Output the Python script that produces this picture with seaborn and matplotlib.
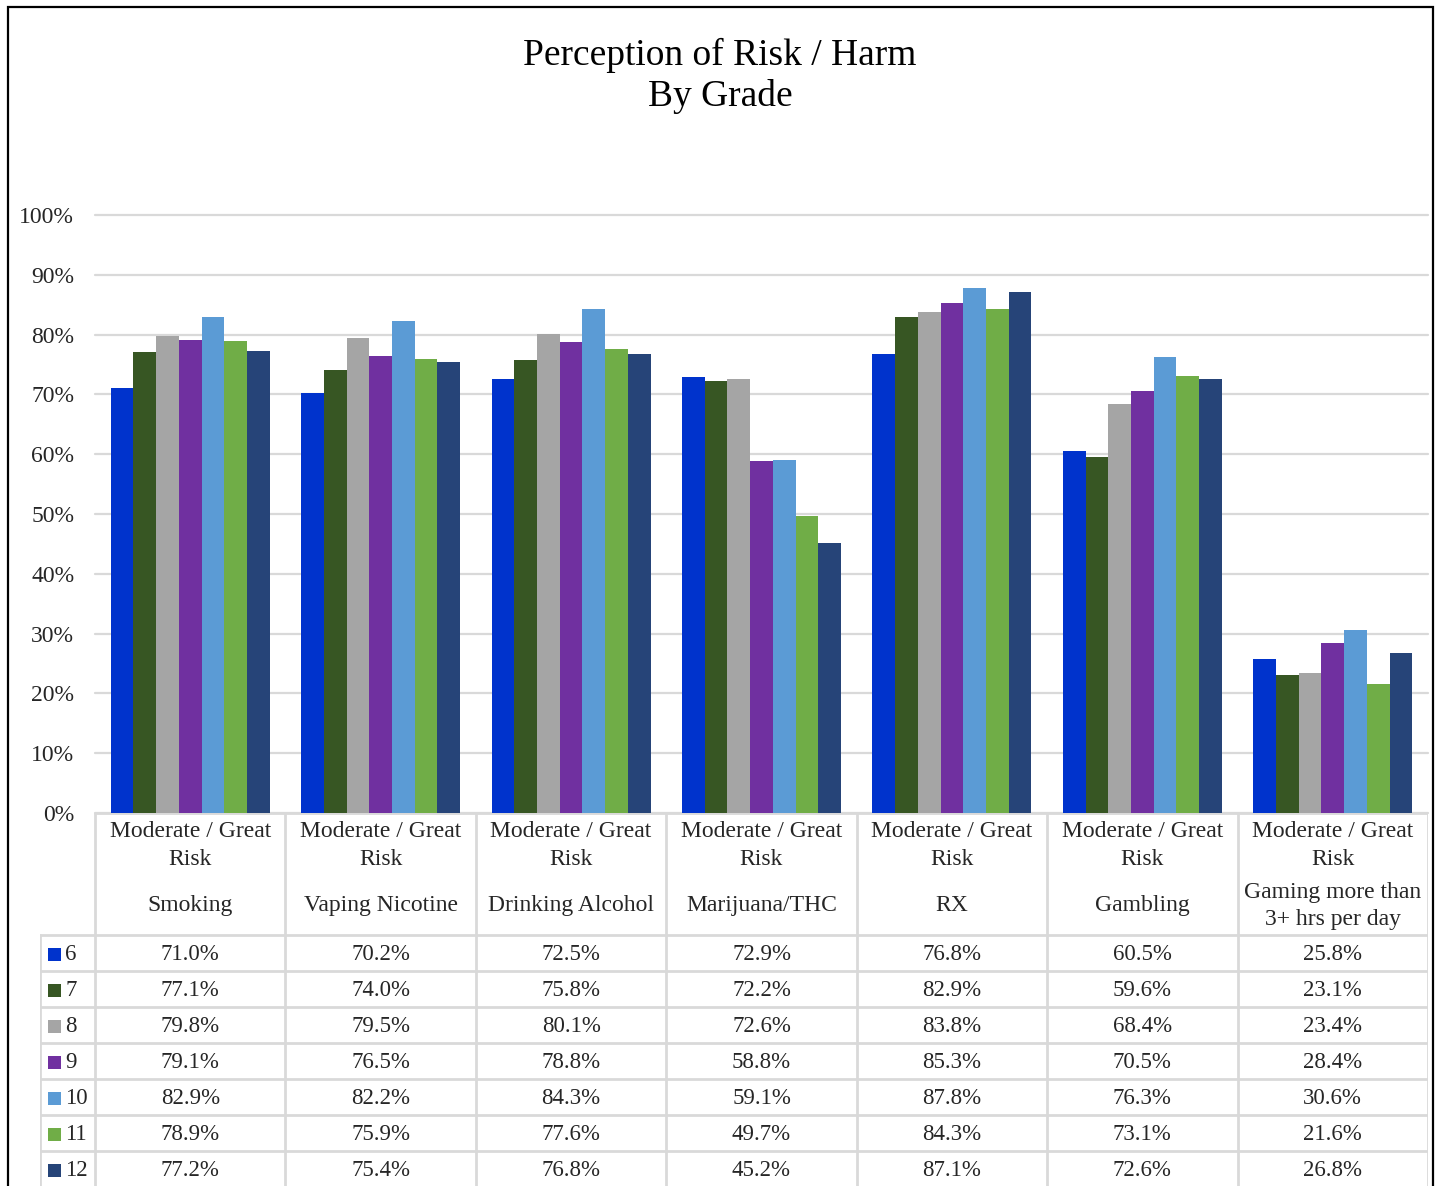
import pandas as pd
import numpy as np
import matplotlib.pyplot as plt
import seaborn as sns
from matplotlib.patches import Rectangle

# chart data
categories = ["Smoking", "Vaping Nicotine", "Drinking Alcohol", "Marijuana/THC",
              "RX", "Gambling", "Gaming more than\n3+ hrs per day"]
grades = ["6", "7", "8", "9", "10", "11", "12"]
g6 = [71.0, 70.2, 72.5, 72.9, 76.8, 60.5, 25.8]
g7 = [77.1, 74.0, 75.8, 72.2, 82.9, 59.6, 23.1]
g8 = [79.8, 79.5, 80.1, 72.6, 83.8, 68.4, 23.4]
g9 = [79.1, 76.5, 78.8, 58.8, 85.3, 70.5, 28.4]
g10 = [82.9, 82.2, 84.3, 59.1, 87.8, 76.3, 30.6]
g11 = [78.9, 75.9, 77.6, 49.7, 84.3, 73.1, 21.6]
g12 = [77.2, 75.4, 76.8, 45.2, 87.1, 72.6, 26.8]
series = [g6, g7, g8, g9, g10, g11, g12]
colors = ["#0033CC", "#375623", "#A5A5A5", "#7030A0", "#5B9BD5", "#70AD47", "#264478"]
y_ticks = [0, 10, 20, 30, 40, 50, 60, 70, 80, 90, 100]
header_top = "Moderate / Great\nRisk"

rows = []
for g, vals in zip(grades, series):
    for c, v in zip(categories, vals):
        rows.append({"category": c, "grade": g, "value": v})
df = pd.DataFrame(rows)

sns.set_style("white")
plt.rcParams["font.family"] = ["Liberation Serif", "DejaVu Serif"]
txt_color = "#262626"
grid_color = "#d9d9d9"

W, H = 1440, 1186
fig = plt.figure(figsize=(W / 100, H / 100), dpi=100)

# bar area
ax = fig.add_axes([95 / W, (H - 813) / H, (1428 - 95) / W, (813 - 215) / H])
sns.barplot(data=df, x="category", y="value", hue="grade", order=categories,
            hue_order=grades, palette=colors, saturation=1, width=0.835,
            linewidth=0, legend=False, ax=ax, zorder=3)
ax.set_xlim(-0.5, len(categories) - 0.5)
ax.set_ylim(0, 100)
ax.set_yticks(y_ticks)
ax.set_yticklabels([f"{t}%" for t in y_ticks], fontsize=17, color=txt_color)
ax.tick_params(axis="y", length=0, pad=15)
ax.set_xticks([])
ax.set_xlabel("")
ax.set_ylabel("")
for t in y_ticks:
    ax.axhline(t, color=grid_color, lw=1.6, zorder=1, clip_on=False)
for s in ax.spines.values():
    s.set_visible(False)

# data table under the bars
n_cat = len(categories)
col_w = (1428 - 95) / n_cat
left_x = -0.5 - (95 - 40) / col_w
head_h = (935 - 813) / 36
tab = fig.add_axes([40 / W, 0, (1428 - 40) / W, (H - 813) / H])
tab.set_xlim(left_x, n_cat - 0.5)
tab.set_ylim((H - 813) / 36, 0)
tab.axis("off")

lw = 2
tab.plot([-0.5, n_cat - 0.5], [0, 0], color=grid_color, lw=lw)
tab.plot([left_x, n_cat - 0.5], [head_h, head_h], color=grid_color, lw=lw)
for r in range(1, len(grades) + 1):
    tab.plot([left_x, n_cat - 0.5], [head_h + r, head_h + r], color=grid_color, lw=lw)
for i in range(n_cat + 1):
    tab.plot([i - 0.5, i - 0.5], [0, 20], color=grid_color, lw=lw)
tab.plot([left_x, left_x], [head_h, 20], color=grid_color, lw=lw)

for i, c in enumerate(categories):
    tab.text(i, 0.9, header_top, ha="center", va="center", fontsize=17,
             color=txt_color, linespacing=1.4)
    tab.text(i, 2.58, c, ha="center", va="center", fontsize=17,
             color=txt_color, linespacing=1.35)

for r, (g, vals, col) in enumerate(zip(grades, series, colors)):
    yc = head_h + r + 0.55
    tab.add_patch(Rectangle((left_x + 8 / col_w, yc - 0.2), 13 / col_w, 0.36,
                            color=col, lw=0))
    tab.text(left_x + 25 / col_w, yc, g, ha="left", va="center", fontsize=16.5,
             color=txt_color)
    for i, v in enumerate(vals):
        tab.text(i, yc, f"{v:.1f}%", ha="center", va="center", fontsize=16.5,
                 color=txt_color)

# title
fig.text(0.5, 1 - 55 / H, "Perception of Risk / Harm", ha="center", va="center",
         fontsize=27, color="#000000")
fig.text(0.5, 1 - 97 / H, "By Grade", ha="center", va="center",
         fontsize=27, color="#000000")

# outer chart border
fig.patches.append(Rectangle((8 / W, -0.01), (1433 - 8) / W, (H - 7) / H + 0.01,
                             transform=fig.transFigure, fill=False,
                             edgecolor="black", lw=1.6))

plt.savefig("out.png", dpi=100)
